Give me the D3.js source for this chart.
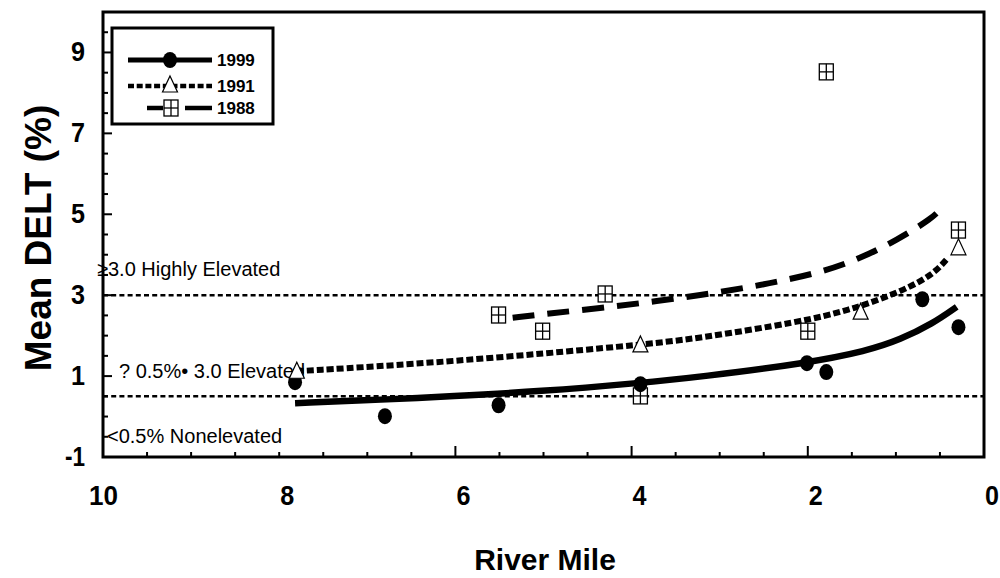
<!DOCTYPE html>
<html>
<head>
<meta charset="utf-8">
<script src="https://cdn.jsdelivr.net/npm/d3@7"></script>
<style>
  body { margin: 0; background: #fff; }
  #chartContainer { width: 1000px; height: 578px; }
  text { font-family: "Liberation Sans", Arial, sans-serif; }
</style>
</head>
<body>
<div id="chartContainer"></div>
<script>

// observed points, river mile / mean DELT %
var miles1999 = [7.82, 6.80, 5.51, 3.90, 2.01, 1.79, 0.70, 0.29]
var delt1999 = [0.85, 0.01, 0.28, 0.80, 1.32, 1.10, 2.90, 2.21]

var miles1991 = [7.80, 3.90, 1.40, 0.29]
var delt1991 = [1.12, 1.77, 2.58, 4.17]

var miles1988 = [5.51, 5.01, 4.30, 3.90, 2.00, 1.79, 0.29]
var delt1988 = [2.51, 2.11, 3.03, 0.51, 2.11, 8.52, 4.61]

// trend curves
var trendMiles1999 = [7.82, 6.80, 6.06, 5.04, 3.90, 3.22, 2.01, 1.33, 0.95, 0.58, 0.31]
var trendDelt1999 = [0.33, 0.42, 0.50, 0.62, 0.83, 0.98, 1.32, 1.62, 1.90, 2.30, 2.71]

var trendMiles1991 = [7.80, 6.06, 3.90, 3.22, 2.09, 1.52, 0.95, 0.58, 0.41]
var trendDelt1991 = [1.12, 1.35, 1.77, 1.94, 2.34, 2.63, 3.08, 3.50, 3.92]

var trendMiles1988 = [5.35, 4.93, 4.36, 3.79, 3.22, 2.66, 2.28, 1.83, 1.41, 0.99, 0.58, 0.47]
var trendDelt1988 = [2.44, 2.55, 2.68, 2.83, 3.00, 3.20, 3.36, 3.58, 3.90, 4.36, 4.91, 5.18]

var xTicks = [10, 8, 6, 4, 2, 0]
var yTicks = [-1, 1, 3, 5, 7, 9]
var thresholds = [3.0, 0.5]
var legendYears = ['1999', '1991', '1988']

function zip(xs, ys) {
    return xs.map(function(x, i) { return { mile: x, delt: ys[i] } })
}

renderChart()

function renderChart() {

    var svg = d3.select('#chartContainer').append('svg')
        .attr('width', 1000)
        .attr('height', 578)

    var plotLeft = 103, plotRight = 984, plotTop = 12, plotBottom = 457

    var xScale = d3.scaleLinear().domain([10, 0]).range([plotLeft, plotRight])
    var yScale = d3.scaleLinear().domain([-1, 10]).range([plotBottom, plotTop])

    // ticks (inward)
    var minorX = d3.range(0, 10.01, 0.5)
    svg.append('g').selectAll('line')
        .data(minorX)
        .enter().append('line')
        .attr('x1', function(d) { return xScale(d) })
        .attr('x2', function(d) { return xScale(d) })
        .attr('y1', plotBottom)
        .attr('y2', function(d) { return (d == 2 || d == 4 || d == 6) ? plotBottom - 11 : plotBottom - 5 })
        .attr('stroke', '#000').attr('stroke-width', 2)

    var minorY = d3.range(-1, 10.01, 0.5)
    svg.append('g').selectAll('line')
        .data(minorY)
        .enter().append('line')
        .attr('y1', function(d) { return yScale(d) })
        .attr('y2', function(d) { return yScale(d) })
        .attr('x1', plotLeft)
        .attr('x2', function(d) { return (Math.abs(d % 2) == 1) ? plotLeft + 9 : plotLeft + 5 })
        .attr('stroke', '#000').attr('stroke-width', 2)

    // tick labels
    svg.append('g').selectAll('text')
        .data(xTicks)
        .enter().append('text')
        .attr('x', function(d) { return xScale(d) + 15 })
        .attr('y', 505)
        .attr('text-anchor', 'end')
        .attr('textLength', function(d) { return d >= 10 ? 29 : 14 })
        .attr('lengthAdjust', 'spacingAndGlyphs')
        .style('font-size', '27px').style('font-weight', 'bold')
        .text(function(d) { return d })

    svg.append('g').selectAll('text')
        .data(yTicks)
        .enter().append('text')
        .attr('x', 85)
        .attr('y', function(d) { return yScale(d) + 9 })
        .attr('text-anchor', 'end')
        .attr('textLength', function(d) { return d < 0 ? 20 : 14 })
        .attr('lengthAdjust', 'spacingAndGlyphs')
        .style('font-size', '27px').style('font-weight', 'bold')
        .text(function(d) { return d })

    // axis titles
    svg.append('text')
        .attr('x', 545).attr('y', 570)
        .attr('text-anchor', 'middle')
        .style('font-size', '30px').style('font-weight', 'bold')
        .text('River Mile')

    svg.append('text')
        .attr('transform', 'translate(51,238) rotate(-90)')
        .attr('text-anchor', 'middle')
        .style('font-size', '37px').style('font-weight', 'bold')
        .text('Mean DELT (%)')

    // threshold lines
    svg.append('g').selectAll('line')
        .data(thresholds)
        .enter().append('line')
        .attr('x1', plotLeft).attr('x2', plotRight)
        .attr('y1', function(d) { return yScale(d) })
        .attr('y2', function(d) { return yScale(d) })
        .attr('stroke', '#000').attr('stroke-width', 2.5)
        .attr('stroke-dasharray', '5,3.2')

    // annotation labels
    svg.append('text').attr('x', 97).attr('y', 276)
        .style('font-size', '20px').text('\u22653.0 Highly Elevated')
    svg.append('text').attr('x', 119).attr('y', 378)
        .style('font-size', '20px').text('? 0.5%\u2022 3.0 Elevated')
    svg.append('text').attr('x', 107).attr('y', 443)
        .style('font-size', '20px').text('<0.5% Nonelevated')

    // trend curves
    var line = d3.line()
        .x(function(d) { return xScale(d.mile) })
        .y(function(d) { return yScale(d.delt) })
        .curve(d3.curveBasis)

    svg.append('path').datum(zip(trendMiles1999, trendDelt1999))
        .attr('d', line).attr('fill', 'none')
        .attr('stroke', '#000').attr('stroke-width', 6.5)

    svg.append('path').datum(zip(trendMiles1991, trendDelt1991))
        .attr('d', line).attr('fill', 'none')
        .attr('stroke', '#000').attr('stroke-width', 6)
        .attr('stroke-dasharray', '7,3')

    svg.append('path').datum(zip(trendMiles1988, trendDelt1988))
        .attr('d', line).attr('fill', 'none')
        .attr('stroke', '#000').attr('stroke-width', 6)
        .attr('stroke-dasharray', '22,13')

    // markers
    var markerG = svg.append('g')
    zip(miles1988, delt1988).forEach(function(d) { drawSquare(markerG, xScale(d.mile), yScale(d.delt)) })
    zip(miles1999, delt1999).forEach(function(d) { drawDot(markerG, xScale(d.mile), yScale(d.delt)) })
    zip(miles1991, delt1991).forEach(function(d) { drawTriangle(markerG, xScale(d.mile), yScale(d.delt)) })

    // frame
    svg.append('rect')
        .attr('x', plotLeft).attr('y', plotTop)
        .attr('width', plotRight - plotLeft).attr('height', plotBottom - plotTop)
        .attr('fill', 'none').attr('stroke', '#000').attr('stroke-width', 3)

    // legend
    var legendG = svg.append('g')
    legendG.append('rect')
        .attr('x', 112).attr('y', 28).attr('width', 161).attr('height', 96)
        .attr('fill', '#fff').attr('stroke', '#000').attr('stroke-width', 3)

    var rowY = [60, 86, 108]
    legendG.append('line').attr('x1', 128).attr('x2', 212).attr('y1', rowY[0]).attr('y2', rowY[0])
        .attr('stroke', '#000').attr('stroke-width', 5)
    drawDot(legendG, 170, rowY[0])
    legendG.append('line').attr('x1', 128).attr('x2', 212).attr('y1', rowY[1]).attr('y2', rowY[1])
        .attr('stroke', '#000').attr('stroke-width', 4.5).attr('stroke-dasharray', '6,2.7')
    drawTriangle(legendG, 170, rowY[1] - 1)
    legendG.append('line').attr('x1', 147).attr('x2', 163).attr('y1', rowY[2]).attr('y2', rowY[2])
        .attr('stroke', '#000').attr('stroke-width', 4.5)
    legendG.append('line').attr('x1', 185).attr('x2', 212).attr('y1', rowY[2]).attr('y2', rowY[2])
        .attr('stroke', '#000').attr('stroke-width', 4.5)
    drawSquare(legendG, 171, rowY[2])

    legendG.selectAll('.legText')
        .data(legendYears)
        .enter().append('text')
        .attr('class', 'legText')
        .attr('x', 217)
        .attr('y', function(d, i) { return rowY[i] + 6 })
        .style('font-size', '17px').style('font-weight', 'bold')
        .text(function(d) { return d })
}

function drawDot(g, x, y) {
    g.append('ellipse').attr('cx', x).attr('cy', y).attr('rx', 7).attr('ry', 8).attr('fill', '#000')
}
function drawTriangle(g, x, y) {
    g.append('path')
        .attr('d', 'M' + x + ',' + (y - 9) + 'L' + (x + 7.5) + ',' + (y + 7) + 'L' + (x - 7.5) + ',' + (y + 7) + 'Z')
        .attr('fill', '#fff').attr('stroke', '#000').attr('stroke-width', 1.2)
}
function drawSquare(g, x, y) {
    g.append('rect').attr('x', x - 7).attr('y', y - 8).attr('width', 14).attr('height', 16)
        .attr('fill', '#fff').attr('stroke', '#000').attr('stroke-width', 1.3)
    g.append('line').attr('x1', x).attr('x2', x).attr('y1', y - 8).attr('y2', y + 8)
        .attr('stroke', '#000').attr('stroke-width', 1.3)
    g.append('line').attr('x1', x - 7).attr('x2', x + 7).attr('y1', y).attr('y2', y)
        .attr('stroke', '#000').attr('stroke-width', 1.3)
}

</script>
</body>
</html>
